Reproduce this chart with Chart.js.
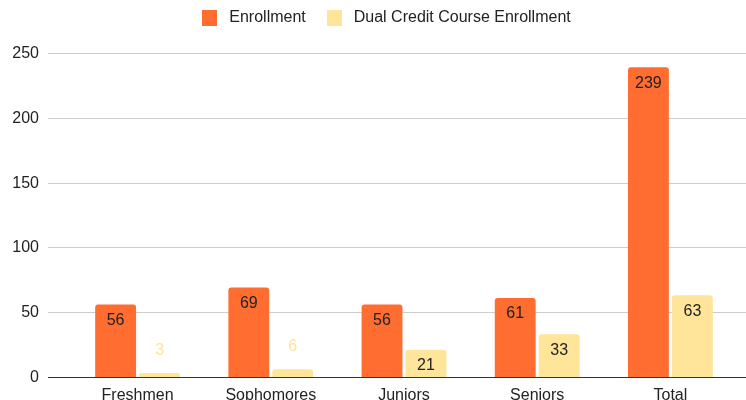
<!DOCTYPE html>
<html>
<head>
<meta charset="utf-8">
<script src="https://cdn.jsdelivr.net/npm/chart.js@4.4.1/dist/chart.umd.min.js"></script>
<style>
html,body{margin:0;padding:0;background:#fff;}
#wrap{width:746px;height:400px;position:relative;}
</style>
</head>
<body>
<div id="wrap"><canvas id="c" width="746" height="400"></canvas></div>
<script>
const categories = ["Freshmen", "Sophomores", "Juniors", "Seniors", "Total"];
const enrollment = [56, 69, 56, 61, 239];
const dualCredit = [3, 6, 21, 33, 63];
const seriesNames = ["Enrollment", "Dual Credit Course Enrollment"];
const yTicks = [0, 50, 100, 150, 200, 250];

const ORANGE = '#ff6d31';
const YELLOW = '#ffe599';
const FONT = "'Liberation Sans', Arial, sans-serif";

function swatch(color) {
  const c = document.createElement('canvas');
  c.width = 15; c.height = 16;
  const g = c.getContext('2d');
  g.fillStyle = color;
  g.fillRect(0, 0, 15, 16);
  return c;
}

// gridlines extend past the plot area; y tick labels come from the scale's ticks
const gridPlugin = {
  id: 'extGrid',
  beforeDatasetsDraw(chart) {
    const ctx = chart.ctx;
    const y = chart.scales.y;
    ctx.save();
    y.ticks.forEach(t => {
      const py = Math.round(y.getPixelForValue(t.value)) + 0.5;
      ctx.beginPath();
      ctx.strokeStyle = t.value === 0 ? '#333333' : '#cccccc';
      ctx.lineWidth = 1;
      ctx.moveTo(48, py);
      ctx.lineTo(746, py);
      ctx.stroke();
      ctx.fillStyle = '#222222';
      ctx.font = "16px " + FONT;
      ctx.textAlign = 'right';
      ctx.textBaseline = 'middle';
      ctx.fillText(String(t.value), 39, py);
    });
    ctx.restore();
  }
};

const labelPlugin = {
  id: 'barLabels',
  afterDatasetsDraw(chart) {
    const ctx = chart.ctx;
    ctx.save();
    ctx.font = "16px " + FONT;
    ctx.textAlign = 'center';
    ctx.textBaseline = 'middle';
    chart.data.datasets.forEach((ds, di) => {
      const meta = chart.getDatasetMeta(di);
      meta.data.forEach((bar, i) => {
        const v = ds.data[i];
        const h = bar.base - bar.y;
        if (h > 22) {
          ctx.fillStyle = '#222222';
          ctx.fillText(String(v), bar.x, bar.y + 16);
        } else {
          ctx.fillStyle = ds.backgroundColor;
          ctx.fillText(String(v), bar.x, bar.y - 23);
        }
      });
    });
    ctx.restore();
  }
};

const legendFit = {
  id: 'legendFit',
  beforeInit(chart) {
    const origFit = chart.legend.fit;
    chart.legend.fit = function() { origFit.call(this); this.height = 53; };
    const origDraw = chart.legend.draw;
    chart.legend.draw = function() {
      const ctx = this.ctx;
      ctx.save();
      ctx.translate(0, -7);
      origDraw.call(this);
      ctx.restore();
    };
  }
};

new Chart(document.getElementById('c'), {
  type: 'bar',
  data: {
    labels: categories,
    datasets: [
      { label: seriesNames[0], data: enrollment, backgroundColor: ORANGE,
        borderRadius: 3, borderSkipped: 'bottom',
        categoryPercentage: 0.66, barPercentage: 0.93 },
      { label: seriesNames[1], data: dualCredit, backgroundColor: YELLOW,
        borderRadius: 3, borderSkipped: 'bottom',
        categoryPercentage: 0.66, barPercentage: 0.93 }
    ]
  },
  options: {
    responsive: false,
    animation: false,
    devicePixelRatio: 1,
    layout: { padding: { left: 32, right: 9, top: 0, bottom: 0 } },
    plugins: {
      legend: {
        display: true,
        position: 'top',
        labels: {
          usePointStyle: true,
          pointStyleWidth: 23,
          boxHeight: 16,
          padding: 17,
          color: '#222222',
          font: { family: FONT, size: 16 },
          generateLabels(chart) {
            const items = Chart.defaults.plugins.legend.labels.generateLabels(chart);
            items.forEach((it, i) => {
              it.pointStyle = swatch(chart.data.datasets[i].backgroundColor);
            });
            return items;
          }
        }
      },
      tooltip: { enabled: false }
    },
    scales: {
      x: {
        grid: { display: false, drawTicks: false },
        border: { display: false },
        ticks: { color: '#222222', font: { family: FONT, size: 16 }, padding: 9 },
        afterFit(s) { s.height = 23; }
      },
      y: {
        min: 0, max: 250,
        afterBuildTicks(s) { s.ticks = yTicks.map(v => ({ value: v })); },
        grid: { display: false, drawTicks: false },
        border: { display: false },
        ticks: { display: false, padding: 0 },
        afterFit(s) { s.width = 39; }
      }
    }
  },
  plugins: [legendFit, gridPlugin, labelPlugin]
});
</script>
</body>
</html>
